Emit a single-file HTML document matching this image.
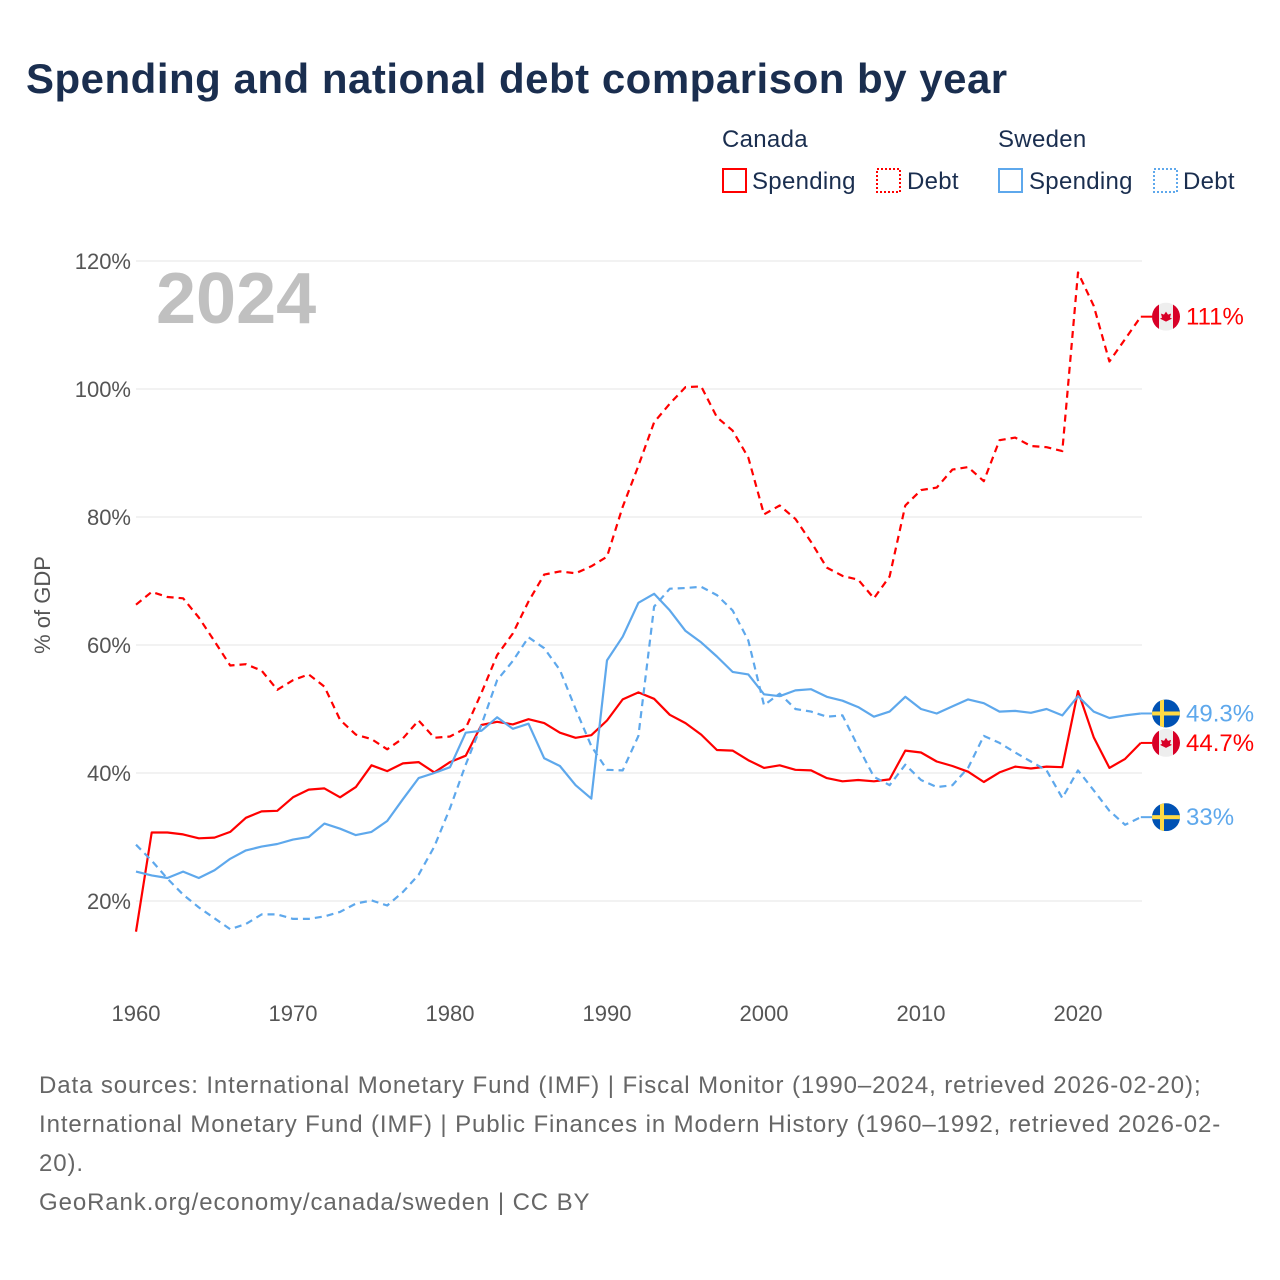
<!DOCTYPE html>
<html><head><meta charset="utf-8"><style>
body{margin:0;background:#fff;font-family:"Liberation Sans",sans-serif;}
#wrap{position:relative;width:1280px;height:1280px;overflow:hidden;background:#fff}
svg text{font-family:"Liberation Sans",sans-serif}
</style></head><body>
<div id="wrap">
<svg id="chart" width="1280" height="1280">
<text x="26" y="93" font-size="42" font-weight="bold" fill="#1a2e4f" letter-spacing="0.5">Spending and national debt comparison by year</text>
<g letter-spacing="0.3">
<text x="722" y="147" font-size="24" fill="#1a2e4f">Canada</text>
<text x="998" y="147" font-size="24" fill="#1a2e4f">Sweden</text>
<g><rect x="723" y="169" width="23" height="23" fill="none" stroke="#f00" stroke-width="2"/><text x="752" y="189" font-size="24" fill="#1a2e4f">Spending</text></g>
<g><rect x="877" y="169" width="23" height="23" fill="none" stroke="#f00" stroke-width="2" stroke-dasharray="2,2"/><text x="907" y="189" font-size="24" fill="#1a2e4f">Debt</text></g>
<g><rect x="999" y="169" width="23" height="23" fill="none" stroke="#5ea8ec" stroke-width="2"/><text x="1029" y="189" font-size="24" fill="#1a2e4f">Spending</text></g>
<g><rect x="1154" y="169" width="23" height="23" fill="none" stroke="#5ea8ec" stroke-width="2" stroke-dasharray="2,2"/><text x="1183" y="189" font-size="24" fill="#1a2e4f">Debt</text></g>
</g>
<text x="156" y="323" font-size="72" font-weight="bold" fill="#c0c0c0">2024</text>
<text transform="translate(50,605) rotate(-90)" text-anchor="middle" font-size="22" fill="#555">% of GDP</text>
<g id="grid"></g><g id="lines"></g><g id="ends"></g>
<g font-size="24" fill="#666" letter-spacing="0.9">
<text x="39" y="1093">Data sources: International Monetary Fund (IMF) | Fiscal Monitor (1990–2024, retrieved 2026-02-20);</text>
<text x="39" y="1132">International Monetary Fund (IMF) | Public Finances in Modern History (1960–1992, retrieved 2026-02-</text>
<text x="39" y="1171">20).</text>
<text x="39" y="1210">GeoRank.org/economy/canada/sweden | CC BY</text>
</g>
</svg></div>
<script>
const years=[];for(let y=1960;y<=2024;y++)years.push(y);
const caSpending=[15.2,30.7,30.7,30.4,29.8,29.9,30.8,33,34,34.1,36.2,37.4,37.6,36.2,37.8,41.2,40.3,41.5,41.7,40.1,41.7,42.7,47.5,48,47.6,48.4,47.8,46.3,45.5,45.9,48.2,51.5,52.6,51.6,49.1,47.8,46,43.6,43.5,42,40.8,41.2,40.5,40.4,39.2,38.7,38.9,38.7,39,43.5,43.2,41.8,41.1,40.2,38.6,40.1,41,40.7,41,40.9,52.8,45.6,40.8,42.2,44.7];
const caDebt=[66.3,68.3,67.5,67.3,64.3,60.6,56.8,57,56,53,54.5,55.4,53.5,48.3,46,45.3,43.7,45.4,48.2,45.5,45.7,47,52.5,58.4,61.8,66.8,71,71.5,71.2,72.3,73.8,81.6,88,94.8,97.7,100.3,100.4,95.6,93.5,89.3,80.4,81.8,79.7,76.1,72.1,70.8,70.2,67.3,70.7,81.8,84.2,84.6,87.4,87.8,85.6,92,92.4,91.1,90.9,90.3,118.2,113,104.3,107.8,111.3];
const seSpending=[24.6,24,23.6,24.6,23.6,24.8,26.6,27.9,28.5,28.9,29.6,30,32.1,31.3,30.3,30.8,32.5,35.9,39.2,40,40.9,46.3,46.6,48.7,46.9,47.7,42.3,41.1,38.1,36,57.6,61.3,66.6,68,65.4,62.2,60.4,58.2,55.8,55.4,52.3,52,52.9,53.1,51.9,51.3,50.3,48.8,49.6,51.9,50,49.3,50.4,51.5,50.9,49.6,49.7,49.4,50,49,52,49.6,48.6,49,49.3];
const seDebt=[28.8,26.3,23.5,21,19,17.3,15.6,16.4,17.9,17.9,17.2,17.2,17.6,18.3,19.6,20.1,19.3,21.4,24.1,28.5,34.5,41.3,47.5,54.5,57.5,61.2,59.5,56.1,50,44.2,40.5,40.4,45.8,66,68.8,68.9,69.1,67.8,65.4,60.7,50.6,52.4,50,49.6,48.8,49,44.1,39.4,38.1,41.3,38.9,37.8,38.1,40.8,45.8,44.7,43.2,41.8,40.4,36.1,40.4,37.3,34.1,31.9,33.1];
const yTicks=[20,40,60,80,100,120];
const xTicks=[1960,1970,1980,1990,2000,2010,2020];
const endLabels=["111%","44.7%","49.3%","33%"];
const NS="http://www.w3.org/2000/svg";
const X=v=>136+(v-1960)*15.7;
const Y=v=>261+(120-v)*6.4;
function mk(t,a,p){const e=document.createElementNS(NS,t);for(const k in a)e.setAttribute(k,a[k]);p.appendChild(e);return e;}
const grid=document.getElementById('grid');
yTicks.forEach(t=>{
 const l=mk('line',{x1:136,x2:1142,y1:Y(t),y2:Y(t),stroke:'#e6e6e6','stroke-width':1},grid);
 
 
 const tx=mk('text',{x:131,y:Y(t)+8,'text-anchor':'end','font-size':22,fill:'#555'},grid);tx.textContent=t+'%';
 
 
});
xTicks.forEach(t=>{
 const tx=mk('text',{x:X(t),y:1021,'text-anchor':'middle','font-size':22,fill:'#555'},grid);tx.textContent=t;
 
 
});
const series=[[caDebt,'#f00','7,5','canada-debt-line',endLabels[0],'ca'],[caSpending,'#f00','','canada-spending-line',endLabels[1],'ca'],[seSpending,'#5ea8ec','','sweden-spending-line',endLabels[2],'se'],[seDebt,'#5ea8ec','7,5','sweden-debt-line',endLabels[3],'se']];
const lines=document.getElementById('lines'),ends=document.getElementById('ends');
series.forEach(s=>{
 const d=s[0].map((v,i)=>(i?'L':'M')+X(years[i]).toFixed(1)+','+Y(v).toFixed(1)).join('');
 const p=mk('path',{d:d,fill:'none',stroke:s[1],'stroke-width':2.2,'stroke-dasharray':s[2],'stroke-linejoin':'round'},lines);
 
 
 const last=s[0][s[0].length-1],ly=Y(last),lx=X(2024);
 mk('line',{x1:lx,x2:1152,y1:ly,y2:ly,stroke:s[1],'stroke-width':2},ends);
 const g=mk('g',{},ends);
 
 
 const cx=1166;
 const cp=mk('clipPath',{id:'c'+s[3]},g);mk('circle',{cx:cx,cy:ly,r:14},cp);
 const f=mk('g',{'clip-path':'url(#c'+s[3]+')'},g);
 if(s[5]==='ca'){mk('rect',{x:cx-14,y:ly-14,width:28,height:28,fill:'#eee'},f);mk('rect',{x:cx-14,y:ly-14,width:7,height:28,fill:'#d80027'},f);mk('rect',{x:cx+7,y:ly-14,width:7,height:28,fill:'#d80027'},f);mk('path',{d:`M${cx},${ly-5}l2,3 3,-1 -1,4 2,1 -6,3 -6,-3 2,-1 -1,-4 3,1z`,fill:'#d80027'},f);}
 else{mk('rect',{x:cx-14,y:ly-14,width:28,height:28,fill:'#0052b4'},f);mk('rect',{x:cx-14,y:ly-2,width:28,height:4,fill:'#ffda44'},f);mk('rect',{x:cx-6,y:ly-14,width:4,height:28,fill:'#ffda44'},f);}
 const t=mk('text',{x:1186,y:ly+8,'font-size':24,fill:s[1]},g);t.textContent=s[4];
});
</script>
</body></html>
